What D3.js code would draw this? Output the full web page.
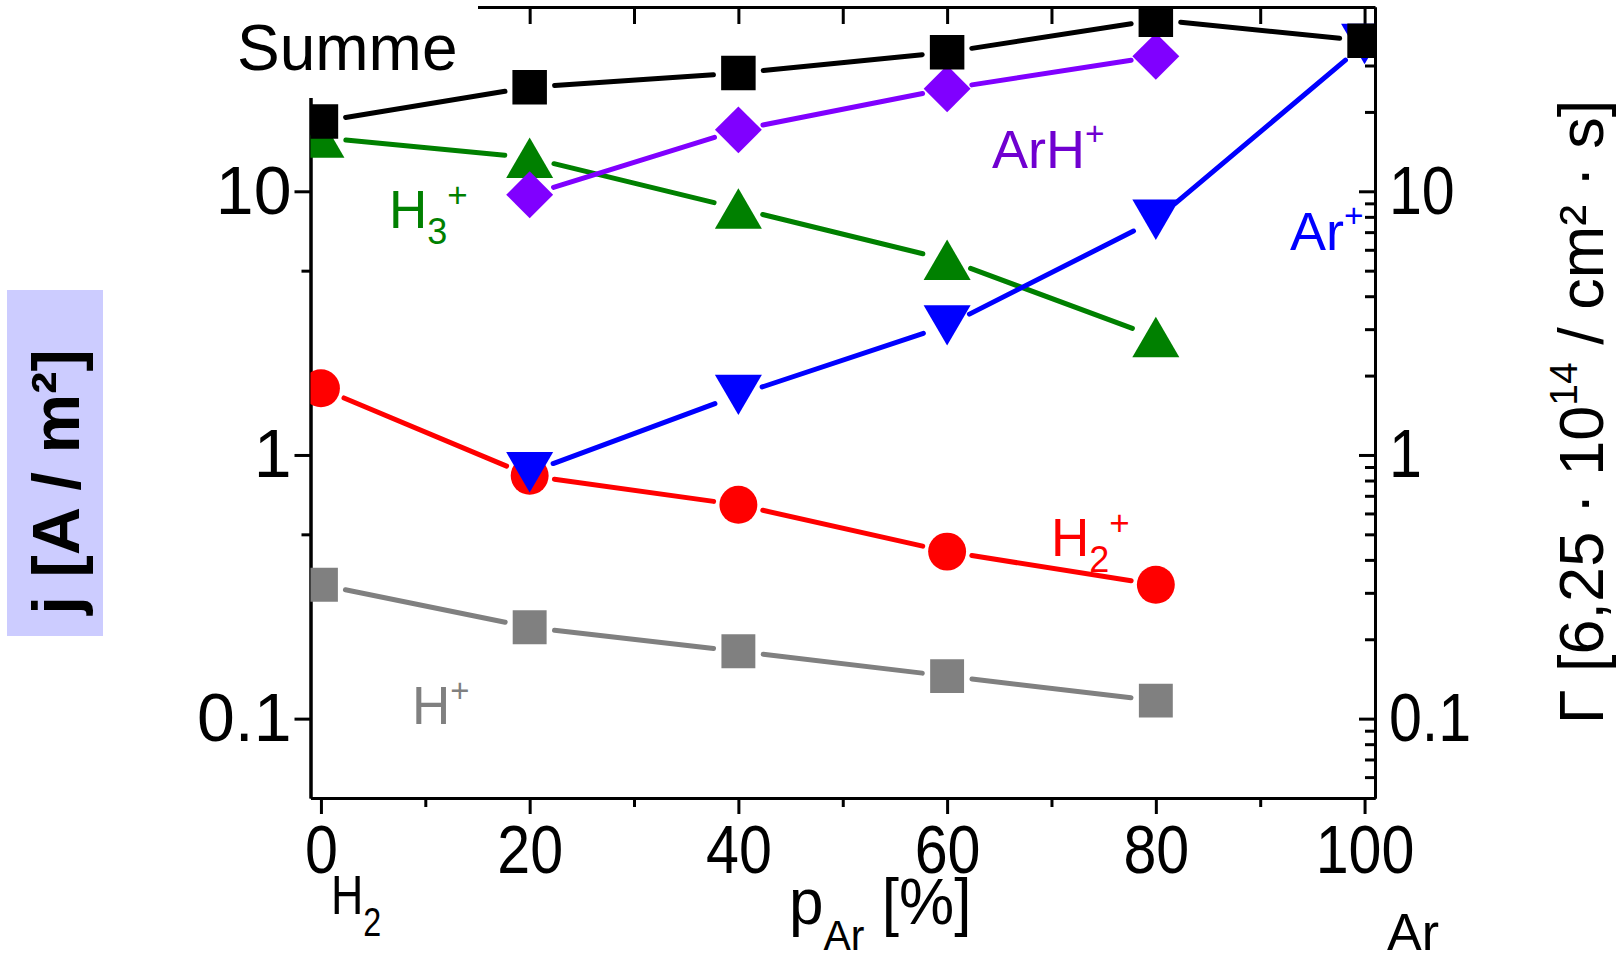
<!DOCTYPE html>
<html>
  <head>
    <meta charset="utf-8">
    <title>Ionenstromdichte vs. Ar-Anteil</title>
    <script src="https://d3js.org/d3.v7.min.js"></script>
    <style>
      body { margin: 0; background: #fff; }
      svg { display: block; font-family: "Liberation Sans", Arial, sans-serif; }
      .axis path, .axis line { stroke: #000; stroke-width: 3; }
      .axis text { font-size: 68px; fill: #000; }
    </style>
  </head>
  <body>
    <svg id="chart" width="1623" height="971"></svg>
    <script>
      // data
      var pAr = [0, 20, 40, 60, 80, 100];
      var summe = [18.4, 24.8, 28.1, 33.7, 44.7, 37.2];
      var arH = [null, 9.7, 17.1, 24.5, 32.5, null];
      var h3 = [16, 13.4, 8.6, 5.5, 2.8, null];
      var ar = [null, 0.86, 1.69, 3.1, 7.8, 36.2];
      var h2 = [1.79, 0.834, 0.647, 0.43, 0.322, null];
      var h1 = [0.322, 0.222, 0.18, 0.145, 0.117, null];

      var xMajor = [0, 20, 40, 60, 80, 100];
      var xMinor = [10, 30, 50, 70, 90];
      var yMajor = [0.1, 1, 10];
      var yMinorLeft = [0.5, 5];
      var yMinorRight = [0.06, 0.07, 0.08, 0.09, 0.2, 0.3, 0.4, 0.5, 0.6, 0.7, 0.8, 0.9,
                         2, 3, 4, 5, 6, 7, 8, 9, 20, 30, 40];

      // custom triangle centred on its bounding box (Origin style)
      var triUp = {
        draw: function(ctx, size) {
          var s = Math.sqrt(size), h = s * 0.86;
          ctx.moveTo(0, -h / 2);
          ctx.lineTo(s / 2, h / 2);
          ctx.lineTo(-s / 2, h / 2);
          ctx.closePath();
        }
      };
      var triDown = {
        draw: function(ctx, size) {
          var s = Math.sqrt(size), h = s * 0.86;
          ctx.moveTo(0, h / 2);
          ctx.lineTo(s / 2, -h / 2);
          ctx.lineTo(-s / 2, -h / 2);
          ctx.closePath();
        }
      };

      var series = [
        { name: "H+", values: h1, colour: "#808080", symbol: d3.symbolSquare, size: 1150, rot: 0 },
        { name: "H2+", values: h2, colour: "#ff0000", symbol: d3.symbolCircle, size: 1130, rot: 0 },
        { name: "H3+", values: h3, colour: "#008000", symbol: triUp, size: 2210, rot: 0 },
        { name: "Ar+", values: ar, colour: "#0000ff", symbol: triDown, size: 2210, rot: 0 },
        { name: "ArH+", values: arH, colour: "#8000ff", symbol: d3.symbolSquare, size: 1100, rot: 45 },
        { name: "Summe", values: summe, colour: "#000000", symbol: d3.symbolSquare, size: 1190, rot: 0 }
      ];

      var svg = d3.select("#chart");
      // plot frame (note: "top" is a reserved window property, so use other names)
      var pl = 310.5, pr = 1375, pt = 7, pb = 798;

      var x = d3.scaleLinear().domain([-1, 101]).range([pl, pr]);
      var y = d3.scaleLog().domain([0.05, 50]).range([pb, pt]);

      svg.append("defs").append("clipPath").attr("id", "plotClip")
        .append("rect")
          .attr("x", pl).attr("y", pt)
          .attr("width", pr - pl).attr("height", pb - pt);

      // axes
      svg.append("g").attr("class", "axis")
        .attr("transform", "translate(0," + pb + ")")
        .call(d3.axisBottom(x).tickValues(xMajor).tickSize(16).tickPadding(11).tickSizeOuter(0))
        .selectAll("text").attr("transform", "scale(0.87,1)");
      svg.append("g").attr("class", "axis")
        .attr("transform", "translate(0," + pb + ")")
        .call(d3.axisBottom(x).tickValues(xMinor).tickSize(9).tickFormat("").tickSizeOuter(0));
      svg.append("g").attr("class", "axis")
        .attr("transform", "translate(0," + pt + ")")
        .call(d3.axisTop(x).tickValues(xMinor.concat(xMajor)).tickSizeInner(-17).tickSizeOuter(0).tickFormat(""));

      var fmt = function(d) { return d < 1 ? String(d) : d3.format("d")(d); };
      svg.append("g").attr("class", "axis")
        .attr("transform", "translate(" + pl + ",0)")
        .call(d3.axisLeft(y).tickValues(yMajor).tickSize(16).tickPadding(3).tickFormat(fmt).tickSizeOuter(0));
      svg.append("g").attr("class", "axis")
        .attr("transform", "translate(" + pl + ",0)")
        .call(d3.axisLeft(y).tickValues(yMinorLeft).tickSize(9).tickFormat("").tickSizeOuter(0));
      svg.append("g").attr("class", "axis")
        .attr("transform", "translate(" + pr + ",0)")
        .call(d3.axisRight(y).tickValues(yMajor).tickSizeInner(-16).tickSizeOuter(0).tickPadding(16).tickFormat(fmt))
        .selectAll("text").attr("transform", "scale(0.87,1)");
      svg.append("g").attr("class", "axis")
        .attr("transform", "translate(" + pr + ",0)")
        .call(d3.axisRight(y).tickValues(yMinorRight).tickSizeInner(-10).tickSizeOuter(0).tickFormat(""));

      // white box behind "Summe" hides the frame corner
      svg.append("rect")
        .attr("x", 0).attr("y", 0)
        .attr("width", 478).attr("height", 98)
        .attr("fill", "#fff");

      // lines (with gaps at the symbols) and symbols
      var plot = svg.append("g").attr("clip-path", "url(#plotClip)");
      var gap = 25;
      series.forEach(function(s) {
        var pts = [];
        s.values.forEach(function(v, i) {
          if (v != null) pts.push([x(pAr[i]), y(v)]);
        });
        var segs = d3.pairs(pts).map(function(p) {
          var dx = p[1][0] - p[0][0], dy = p[1][1] - p[0][1];
          var len = Math.sqrt(dx * dx + dy * dy);
          var ux = dx / len, uy = dy / len;
          return [[p[0][0] + ux * gap, p[0][1] + uy * gap], [p[1][0] - ux * gap, p[1][1] - uy * gap]];
        });
        var g = plot.append("g");
        g.selectAll(".seg")
          .data(segs)
          .enter().append("path")
            .attr("class", "seg")
            .attr("d", d3.line())
            .attr("stroke", s.colour)
            .attr("stroke-width", 5)
            .attr("stroke-linecap", "round")
            .attr("fill", "none");
        g.selectAll(".sym")
          .data(pts)
          .enter().append("path")
            .attr("class", "sym")
            .attr("transform", function(d) { return "translate(" + d[0] + "," + d[1] + ") rotate(" + s.rot + ")"; })
            .attr("d", d3.symbol().type(s.symbol).size(s.size))
            .attr("fill", s.colour);
      });

      // text helper with sub/superscripts: parts = [[text, "n"|"sub"|"sup", scale, shift], ...]
      function label(px, py, size, colour, parts, opts) {
        opts = opts || {};
        var t = svg.append("text")
          .attr("transform", "translate(" + px + "," + py + ")" + (opts.rotate ? " rotate(" + opts.rotate + ")" : "") +
            (opts.sx ? " scale(" + opts.sx + ",1)" : ""))
          .attr("font-size", size)
          .attr("fill", colour)
          .attr("text-anchor", opts.anchor || "start")
          .attr("font-weight", opts.bold ? "bold" : "normal");
        var shift = 0;
        parts.forEach(function(p) {
          var target = p[1] === "sub" ? (p[3] || 0.28) : p[1] === "sup" ? -(p[3] || 0.42) : 0;
          var sp = t.append("tspan").text(p[0]);
          if (p[1] !== "n") sp.attr("font-size", size * (p[2] || 0.62));
          sp.attr("dy", ((target - shift) * size) + "px");
          shift = target;
        });
        return t;
      }

      label(237, 70, 64, "#000", [["Summe", "n"]]);
      label(389, 228, 53, "#008000", [["H", "n"], ["3", "sub", 0.68, 0.3], ["+", "sup", 0.66, 0.4]]);
      label(992, 168, 54, "#7000d0", [["ArH", "n"], ["+", "sup", 0.62, 0.42]]);
      label(1290, 250, 54, "#0000ff", [["Ar", "n"], ["+", "sup", 0.62, 0.42]]);
      label(1051, 556, 53, "#ff0000", [["H", "n"], ["2", "sub", 0.68, 0.3], ["+", "sup", 0.66, 0.4]]);
      label(412, 724, 53, "#808080", [["H", "n"], ["+", "sup", 0.62, 0.42]]);

      label(331, 914, 56, "#000", [["H", "n"], ["2", "sub", 0.72, 0.4]], { sx: 0.8 });
      label(789, 924, 64, "#000", [["p", "n"], ["Ar", "sub", 0.66, 0.4], [" [%]", "n"]], { sx: 0.97 });
      label(1387, 950, 52, "#000", [["Ar", "n"]]);

      // y axis titles
      svg.append("rect")
        .attr("x", 7).attr("y", 290)
        .attr("width", 96).attr("height", 346)
        .attr("fill", "#ccccff");
      label(79, 482, 67, "#000", [["j [A / m²]", "n"]], { rotate: -90, anchor: "middle", bold: true });
      label(1603, 412, 63, "#000", [["Γ  [6,25 · 10", "n"], ["14", "sup", 0.62], [" / cm² · s]", "n"]], { rotate: -90, anchor: "middle" });
    </script>
  </body>
</html>
